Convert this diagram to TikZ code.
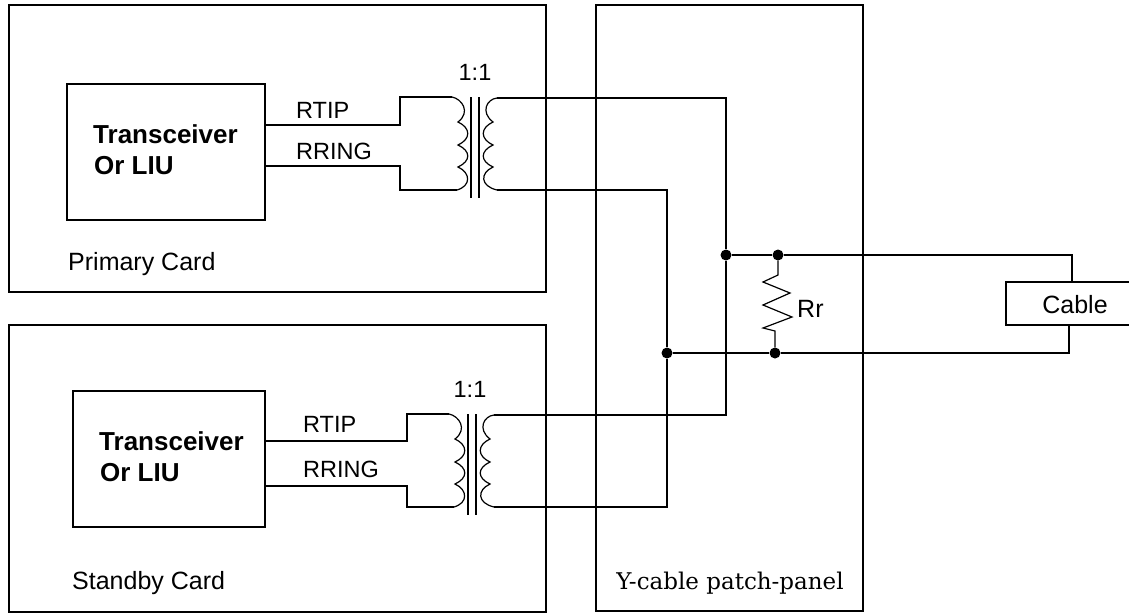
\documentclass[tikz,border=0pt]{standalone}
\usepackage{fontspec}
\setmainfont{Liberation Sans}
\newfontfamily\panelfont{DejaVu Serif}
\tikzset{
  box/.style={draw, line width=1.5pt, inner sep=0pt},
  wire/.style={line width=1.5pt, line join=miter},
  coilwire/.style={line width=1.2pt},
  dotnode/.style={circle, fill=black, inner sep=0pt, minimum size=11pt},
  txt/.style={inner sep=0pt, font=\fontsize{25}{27}\selectfont},
  sigtxt/.style={inner sep=0pt, font=\fontsize{23.5}{26}\selectfont},
  boldtxt/.style={inner sep=0pt, font=\fontsize{26}{28}\selectfont\bfseries},
  pics/xfmr/.style={code={
    \coordinate (-pt) at (452,97);
    \coordinate (-pb) at (457,190);
    \coordinate (-st) at (497,98);
    \coordinate (-sb) at (497,190);
    \draw[coilwire] (-pt) .. controls (462,99) and (471,112) .. (458,122)
      .. controls (471,128) and (471,139) .. (458,145)
      .. controls (471,151) and (471,161) .. (458,167)
      .. controls (471,173) and (471,186) .. (-pb);
    \draw[coilwire] (-st) .. controls (487,99) and (480,112) .. (493,122)
      .. controls (480,128) and (480,139) .. (493,145)
      .. controls (480,151) and (480,161) .. (493,167)
      .. controls (480,173) and (480,186) .. (-sb);
    \coordinate (-c1t) at (471,97);
    \coordinate (-c1b) at (471,198);
    \coordinate (-c2t) at (479,97);
    \coordinate (-c2b) at (479,198);
    \draw[wire] (-c1t) -- (-c1b);
    \draw[wire] (-c2t) -- (-c2b);
  }}
}
\begin{document}
\begin{tikzpicture}[x=1pt, y=-1pt]
\useasboundingbox (0,0) rectangle (1129,614);

% boxes
\node[box, minimum width=537pt, minimum height=287pt] (primary) at (277.5,148.5) {};
\node[box, minimum width=537pt, minimum height=287pt] (standby) at (277.5,468.5) {};
\node[box, minimum width=267pt, minimum height=606pt] (panel) at (729.5,308) {};
\node[box, minimum width=198pt, minimum height=136pt] (liu1) at (166,152) {};
\node[box, minimum width=192pt, minimum height=136pt] (liu2) at (169,459) {};
\node[box, fill=white, minimum width=160pt, minimum height=43pt] (cable) at (1086,303.5) {};

% texts
\node[boldtxt, anchor=west] (t1a) at (93,134) {Transceiver};
\node[boldtxt, anchor=west] (t1b) at (94,166) {Or LIU};
\node[boldtxt, anchor=west] (t2a) at (99,441) {Transceiver};
\node[boldtxt, anchor=west] (t2b) at (100,473) {Or LIU};
\node[txt, anchor=west] (lp) at (68,264) {Primary Card};
\node[txt, anchor=west] (ls) at (72,583) {Standby Card};
\node[inner sep=0pt, font=\panelfont\fontsize{23}{25}\selectfont] (ly) at (730,583) {Y-cable patch-panel};
\node[txt] (lc) at (1075,305) {Cable};
\node[txt, anchor=west] (lr) at (797,309) {Rr};
\node[sigtxt] (r1) at (475,72) {1:1};
\node[sigtxt] (r2) at (470,389) {1:1};
\node[sigtxt, anchor=west] (l1) at (296,110) {RTIP};
\node[sigtxt, anchor=west] (l2) at (296,151) {RRING};
\node[sigtxt, anchor=west] (l3) at (303,424) {RTIP};
\node[sigtxt, anchor=west] (l4) at (303,469) {RRING};

% transformers
\pic (x1) at (0,0) {xfmr};
\pic (x2) at (-3,317) {xfmr};

% junctions
\node[dotnode] (j1) at (726,255) {};
\node[dotnode] (j2) at (778,255) {};
\node[dotnode] (j3) at (667,353) {};
\node[dotnode] (j4) at (775,353) {};

% wires
\draw[wire] (liu1.east |- 0,125) -- (400,125) -- (400,97) -- (x1-pt);
\draw[wire] (liu1.east |- 0,166) -- (400,166) -- (400,190) -- (x1-pb);
\draw[wire] (liu2.east |- 0,441) -- (407,441) -- (407,414) -- (x2-pt);
\draw[wire] (liu2.east |- 0,486) -- (407,486) -- (407,507) -- (x2-pb);
\draw[wire] (x1-st) -- (726,98) -- (j1);
\draw[wire] (x2-st) -- (726,415) -- (j1);
\draw[wire] (x1-sb) -- (667,190) -- (j3);
\draw[wire] (x2-sb) -- (667,507) -- (j3);
\draw[wire] (j1) -- (j2) -- (1072,255) -- (1072,282);
\draw[wire] (j3) -- (j4) -- (1069,353) -- (1069,325);

% resistor
\draw[coilwire] (j2) -- (778,275) -- (763,282) -- (790,293) -- (763,305) -- (792,317) -- (763,328) -- (775,331) -- (j4);
\end{tikzpicture}
\end{document}
